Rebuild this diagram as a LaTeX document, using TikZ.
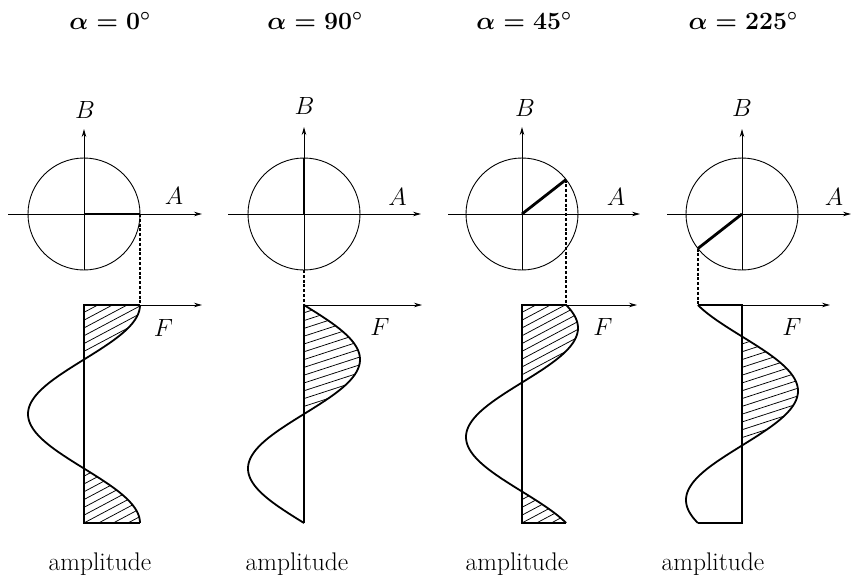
\documentclass[tikz,border=0pt]{standalone}
\usetikzlibrary{arrows.meta}
\newcommand\wave[3]{% #1 = axis x, #2 = phase, #3 = hatch angle
  \begin{scope}
    \clip (#1,300) rectangle (#1+70,530);
    \clip plot[domain=0:360,samples=120,variable=\x] ({#1+56*cos(\x-#2)},{305+0.60556*\x}) -- (#1,523) -- (#1,305) -- cycle;
    \foreach \k in {0,...,46} \draw[hatch] (#1-2,290+7.8*\k) -- ++(80,{-80*tan(#3)});
  \end{scope}
  \draw[wavecurve] plot[domain=0:360,samples=120,variable=\x] ({#1+56*cos(\x-#2)},{305+0.60556*\x});
}
\newcommand\bmtitle[1]{{\boldmath$\alpha = #1^\circ$}}
\begin{document}
\begin{tikzpicture}[x=1pt,y=-1pt,
  ax/.style={line width=0.9pt,-{Stealth[length=8pt,width=4.5pt]}},
  circ/.style={line width=0.9pt},
  radline/.style={line width=2.8pt},
  proj/.style={line width=1.4pt,dash pattern=on 3pt off 1.8pt},
  base/.style={line width=1.7pt},
  wavecurve/.style={line width=1.8pt},
  hatch/.style={line width=0.75pt},
  lbl/.style={font=\fontsize{23.7}{28}\selectfont, inner sep=0pt},
  word/.style={font=\fontsize{25.5}{30}\selectfont, inner sep=0pt},
  ]
\useasboundingbox (0,0) rectangle (851,576);

% ---------- panel 1 : alpha = 0 ----------
\node[lbl] (t1) at (110,21) {\bmtitle{0}};
\coordinate (o1) at (84,214);
\draw[circ] (o1) circle[radius=56];
\coordinate (xl1) at (8,214); \coordinate (xr1) at (202,214);
\coordinate (yb1) at (84,270); \coordinate (yt1) at (84,129);
\draw[ax] (xl1) -- (xr1);
\draw[ax] (yb1) -- (yt1);
\coordinate (p1) at (140,214);
\draw[radline] (o1) -- (p1);
\node[lbl] (A1) at (174,196) {$A$};
\node[lbl] (B1) at (85,110) {$B$};
\coordinate (q1) at (140,305);
\coordinate (f1) at (84,305); \coordinate (fe1) at (202,305);
\coordinate (g1) at (84,523); \coordinate (h1) at (140,523);
\wave{84}{0}{28}
\draw[base] (q1) -- (f1) -- (g1) -- (h1);
\draw[ax] (f1) -- (fe1);
\draw[proj] (p1) -- (q1);
\node[lbl] (F1) at (163.5,328) {$F$};
\node[word] (am1) at (100,564) {amplitude};

% ---------- panel 2 : alpha = 90 ----------
\node[lbl] (t2) at (315,21) {\bmtitle{90}};
\coordinate (o2) at (304,214);
\draw[circ] (o2) circle[radius=56];
\coordinate (xl2) at (228,214); \coordinate (xr2) at (421,214);
\coordinate (yb2) at (304,270); \coordinate (yt2) at (304,127);
\draw[ax] (xl2) -- (xr2);
\draw[ax] (yb2) -- (yt2);
\coordinate (p2) at (304,158);
\draw[radline] (o2) -- (p2);
\node[lbl] (A2) at (397.5,197) {$A$};
\node[lbl] (B2) at (304.5,106) {$B$};
\coordinate (f2) at (304,305); \coordinate (fe2) at (422,305);
\coordinate (g2) at (304,523);
\wave{304}{90}{18}
\draw[base] (f2) -- (g2);
\draw[ax] (f2) -- (fe2);
\draw[proj] (yb2) -- (f2);
\node[lbl] (F2) at (380,327) {$F$};
\node[word] (am2) at (297,564) {amplitude};

% ---------- panel 3 : alpha = 45 ----------
\node[lbl] (t3) at (524,21) {\bmtitle{45}};
\coordinate (o3) at (522,214);
\draw[circ] (o3) circle[radius=56];
\coordinate (xl3) at (448,214); \coordinate (xr3) at (640,214);
\coordinate (yb3) at (522,270); \coordinate (yt3) at (522,127);
\draw[ax] (xl3) -- (xr3);
\draw[ax] (yb3) -- (yt3);
\coordinate (p3) at (566.1,179.5);
\draw[radline] (o3) -- (p3);
\node[lbl] (A3) at (616,197) {$A$};
\node[lbl] (B3) at (525,108) {$B$};
\coordinate (q3) at (566.1,305);
\coordinate (f3) at (522,305); \coordinate (fe3) at (637,305);
\coordinate (g3) at (522,523); \coordinate (h3) at (566.1,523);
\wave{522}{38}{28}
\draw[base] (q3) -- (f3) -- (g3) -- (h3);
\draw[ax] (f3) -- (fe3);
\draw[proj] (p3) -- (q3);
\node[lbl] (F3) at (603,327) {$F$};
\node[word] (am3) at (517,564) {amplitude};

% ---------- panel 4 : alpha = 225 ----------
\node[lbl] (t4) at (743,21) {\bmtitle{225}};
\coordinate (o4) at (742,214);
\draw[circ] (o4) circle[radius=56];
\coordinate (xl4) at (667,214); \coordinate (xr4) at (851,214);
\coordinate (yb4) at (742,270); \coordinate (yt4) at (742,129);
\draw[ax] (xl4) -- (xr4);
\draw[ax] (yb4) -- (yt4);
\coordinate (p4) at (697.9,248.5);
\draw[radline] (o4) -- (p4);
\node[lbl] (A4) at (834,197) {$A$};
\node[lbl] (B4) at (742,108) {$B$};
\coordinate (q4) at (697.9,305);
\coordinate (f4) at (742,305); \coordinate (fe4) at (830,305);
\coordinate (g4) at (742,523); \coordinate (h4) at (697.9,523);
\wave{742}{142}{18}
\draw[base] (q4) -- (f4) -- (g4) -- (h4);
\draw[ax] (q4) -- (fe4);
\draw[proj] (p4) -- (q4);
\node[lbl] (F4) at (792,327) {$F$};
\node[word] (am4) at (713,564) {amplitude};
\end{tikzpicture}
\end{document}
